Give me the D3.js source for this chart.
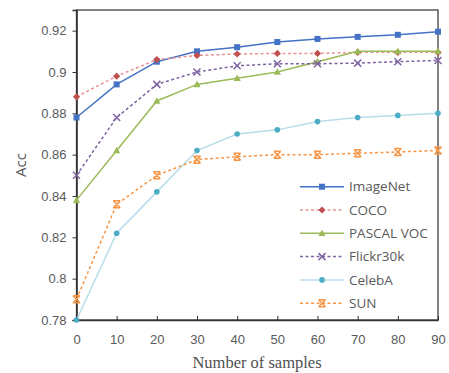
<script src="https://d3js.org/d3.v7.min.js"></script>
<style>
  body { margin: 0; background: #fff; }
</style>
<div id="chart"></div>
<script>
  // chart data
  const samples = [0, 10, 20, 30, 40, 50, 60, 70, 80, 90];
  const imagenet = [0.878, 0.894, 0.905, 0.910, 0.912, 0.9145, 0.916, 0.917, 0.918, 0.9195];
  const coco = [0.888, 0.898, 0.906, 0.908, 0.9087, 0.909, 0.909, 0.9095, 0.9095, 0.9095];
  const pascal = [0.838, 0.862, 0.886, 0.894, 0.897, 0.900, 0.905, 0.910, 0.910, 0.910];
  const flickr = [0.850, 0.878, 0.894, 0.900, 0.903, 0.904, 0.904, 0.9043, 0.905, 0.9056];
  const celeba = [0.780, 0.822, 0.842, 0.862, 0.870, 0.872, 0.876, 0.878, 0.879, 0.880];
  const sun = [0.790, 0.836, 0.850, 0.8576, 0.859, 0.860, 0.860, 0.8607, 0.8613, 0.862];
  const yTicks = [0.78, 0.8, 0.82, 0.84, 0.86, 0.88, 0.9, 0.92];

  const series = [
    {name: 'ImageNet', values: imagenet, line: '#4472C4', mark: '#4472C4', dash: null, shape: 'square'},
    {name: 'COCO', values: coco, line: '#E89494', mark: '#C0504D', dash: '3,2.5', shape: 'diamond'},
    {name: 'PASCAL VOC', values: pascal, line: '#9BBB59', mark: '#9BBB59', dash: null, shape: 'triangle'},
    {name: 'Flickr30k', values: flickr, line: '#8064A2', mark: '#8064A2', dash: '3,2.5', shape: 'x'},
    {name: 'CelebA', values: celeba, line: '#B7DEE8', mark: '#4BACC6', dash: null, shape: 'circle'},
    {name: 'SUN', values: sun, line: '#F79646', mark: '#F79646', dash: '3,2.5', shape: 'star'}
  ];

  const W = 449, H = 373;
  const plotL = 76.5, plotR = 438, plotT = 10, plotB = 320;

  const svg = d3.select('#chart').append('svg')
    .attr('width', W).attr('height', H)
    .style('font-family', "'Open Sans', 'Liberation Sans', Arial, sans-serif");

  const x = d3.scaleLinear().domain([0, 90]).range([plotL, plotR]);
  const y = d3.scaleLinear().domain([0.78, 0.93]).range([plotB, plotT]);

  // frame
  svg.append('rect')
    .attr('x', plotL).attr('y', plotT)
    .attr('width', plotR - plotL).attr('height', plotB - plotT)
    .attr('fill', 'none').attr('stroke', '#404040').attr('stroke-width', 1.3);

  // y axis
  const yAxis = svg.append('g')
    .attr('transform', `translate(${plotL},0)`)
    .call(d3.axisLeft(y).tickValues(yTicks).tickSize(4).tickPadding(6)
      .tickFormat(d => d3.format('')(+d.toFixed(2))));
  yAxis.select('.domain').attr('stroke', '#333').attr('stroke-width', 1.6);
  yAxis.selectAll('.tick line').attr('stroke', '#333');
  yAxis.selectAll('text').attr('fill', '#595959').style('font-size', '13px');

  // x axis, ticks pointing inward
  const xAxis = svg.append('g')
    .attr('transform', `translate(0,${plotB})`)
    .call(d3.axisBottom(x).tickValues(samples).tickSizeInner(-4).tickSizeOuter(0).tickPadding(15));
  xAxis.select('.domain').attr('stroke', '#333').attr('stroke-width', 1.6);
  xAxis.selectAll('.tick line').attr('stroke', '#333');
  xAxis.selectAll('text').attr('fill', '#595959').style('font-size', '13px');

  // axis titles
  svg.append('text')
    .attr('x', 257).attr('y', 368)
    .attr('text-anchor', 'middle')
    .attr('fill', '#505050')
    .style('font-family', "'Liberation Serif', 'Times New Roman', serif")
    .style('font-size', '16.5px')
    .text('Number of samples');

  svg.append('text')
    .attr('transform', 'translate(26,165) rotate(-90)')
    .attr('text-anchor', 'middle')
    .attr('fill', '#595959')
    .style('font-size', '15px')
    .text('Acc');

  function marker(g, shape, color) {
    if (shape === 'square') {
      g.append('rect').attr('x', -3).attr('y', -3).attr('width', 6).attr('height', 6).attr('fill', color);
    } else if (shape === 'diamond') {
      g.append('path').attr('d', 'M0,-3.6L3.6,0L0,3.6L-3.6,0Z').attr('fill', color);
    } else if (shape === 'triangle') {
      g.append('path').attr('d', 'M0,-3.8L3.6,2.8L-3.6,2.8Z').attr('fill', color);
    } else if (shape === 'circle') {
      g.append('circle').attr('r', 2.8).attr('fill', color);
    } else if (shape === 'x') {
      g.append('path').attr('d', 'M-3.5,-3.5L3.5,3.5M-3.5,3.5L3.5,-3.5')
        .attr('stroke', color).attr('stroke-width', 1.5);
    } else if (shape === 'star') {
      g.append('path').attr('d', 'M-3.5,-3.5L3.5,3.5M-3.5,3.5L3.5,-3.5M-3.5,-3.5H3.5M-3.5,3.5H3.5')
        .attr('stroke', color).attr('stroke-width', 1.5);
    }
  }

  const line = d3.line().x((d, i) => x(samples[i])).y(d => y(d));

  series.forEach(s => {
    svg.append('path')
      .datum(s.values)
      .attr('d', line)
      .attr('fill', 'none')
      .attr('stroke', s.line)
      .attr('stroke-width', 1.5)
      .attr('stroke-dasharray', s.dash);
    s.values.forEach((v, i) => {
      const g = svg.append('g').attr('transform', `translate(${x(samples[i])},${y(v)})`);
      marker(g, s.shape, s.mark);
    });
  });

  // legend
  const lx0 = 300, lx1 = 344, ly0 = 186.7, lstep = 23.3;
  series.forEach((s, i) => {
    const ly = ly0 + i * lstep;
    svg.append('line')
      .attr('x1', lx0).attr('x2', lx1).attr('y1', ly).attr('y2', ly)
      .attr('stroke', s.line).attr('stroke-width', 1.5)
      .attr('stroke-dasharray', s.dash);
    const g = svg.append('g').attr('transform', `translate(${(lx0 + lx1) / 2},${ly})`);
    marker(g, s.shape, s.mark);
    svg.append('text')
      .attr('x', 349).attr('y', ly).attr('dy', '0.35em')
      .attr('fill', '#595959')
      .style('font-size', '13.5px')
      .text(s.name);
  });
</script>
